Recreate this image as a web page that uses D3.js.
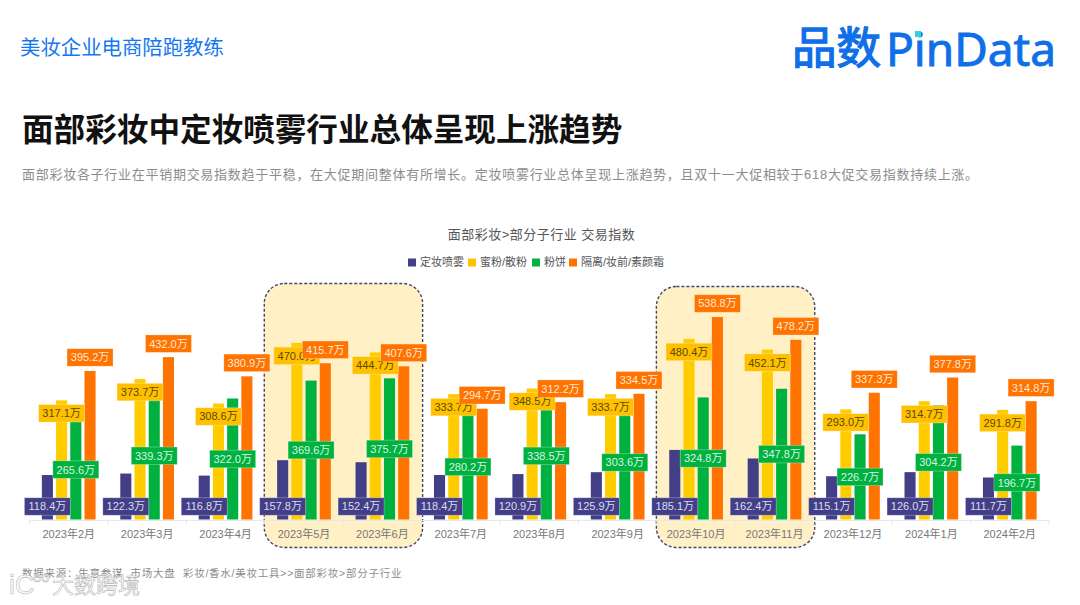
<!DOCTYPE html>
<html>
<head>
<meta charset="utf-8">
<script src="https://cdn.jsdelivr.net/npm/d3@7"></script>
<style>
  html, body { margin: 0; padding: 0; background: #fff; }
  svg { display: block; }
  text { font-family: "Liberation Sans", "Noto Sans CJK SC", sans-serif; white-space: pre; }
</style>
</head>
<body>
<div id="chart"></div>
<script>
const months = ['2023年2月', '2023年3月', '2023年4月', '2023年5月', '2023年6月', '2023年7月', '2023年8月', '2023年9月', '2023年10月', '2023年11月', '2023年12月', '2024年1月', '2024年2月'];
const seriesNames = ['定妆喷雾', '蜜粉/散粉', '粉饼', '隔离/妆前/素颜霜'];
const foundation = [118.4, 122.3, 116.8, 157.8, 152.4, 118.4, 120.9, 125.9, 185.1, 162.4, 115.1, 126.0, 111.7];
const powder = [317.1, 373.7, 308.6, 470.0, 444.7, 333.7, 348.5, 333.7, 480.4, 452.1, 293.0, 314.7, 291.8];
const compact = [265.6, 339.3, 322.0, 369.6, 375.7, 280.2, 338.5, 303.6, 324.8, 347.8, 226.7, 304.2, 196.7];
const primer = [395.2, 432.0, 380.9, 415.7, 407.6, 294.7, 312.2, 334.5, 538.8, 478.2, 337.3, 377.8, 314.8];
const highlights = [['2023年5月', '2023年6月'], ['2023年10月', '2023年11月']];

const seriesValues = [foundation, powder, compact, primer];
const barColors = ['#423f87', '#ffcc00', '#00b140', '#ff7300'];
const labelColors = ['#423f87', '#ffc000', '#00b140', '#ff7300'];
const labelText = ['#dcdcee', '#5c4a00', '#d8f5e2', '#ffe8d6'];
const legendX = [408, 468, 532, 569];

const width = 1080, height = 605;
const baseY = 519.5;

const svg = d3.select('#chart').append('svg').attr('width', width).attr('height', height);

// page header
svg.append('text').attr('x', 20).attr('y', 54.5).attr('font-size', 20.4).attr('fill', '#1677f2').text('美妆企业电商陪跑教练');
svg.append('text').attr('x', 22).attr('y', 140.5).attr('font-size', 31.6).attr('font-weight', 700).attr('fill', '#111').text('面部彩妆中定妆喷雾行业总体呈现上涨趋势');
svg.append('text').attr('x', 22).attr('y', 179).attr('font-size', 13).attr('letter-spacing', 0.72).attr('fill', '#8c8c8c')
  .text('面部彩妆各子行业在平销期交易指数趋于平稳，在大促期间整体有所增长。定妆喷雾行业总体呈现上涨趋势，且双十一大促相较于618大促交易指数持续上涨。');

// logo
svg.append('text').attr('x', 792).attr('y', 64).attr('font-size', 44.5).attr('fill', '#0f6fe8').attr('stroke', '#0f6fe8').attr('stroke-width', 1.3).text('品数');
svg.append('text').attr('x', 886).attr('y', 66).attr('font-size', 46).attr('fill', '#0f6fe8').attr('stroke', '#0f6fe8').attr('stroke-width', 0.9)
  .attr('textLength', 170).attr('lengthAdjust', 'spacingAndGlyphs')
  .style('font-family', '"Noto Sans", sans-serif').text('PinData');
svg.append('rect').attr('x', 915).attr('y', 31).attr('width', 6).attr('height', 6).attr('fill', '#2fd0e0');

// chart title and legend
svg.append('text').attr('x', 541.5).attr('y', 238.5).attr('text-anchor', 'middle').attr('font-size', 13).attr('letter-spacing', 0.5).attr('fill', '#555').text('面部彩妆>部分子行业 交易指数');
seriesNames.forEach((name, i) => {
  svg.append('rect').attr('x', legendX[i]).attr('y', 258.5).attr('width', 8).attr('height', 8).attr('fill', labelColors[i]);
  svg.append('text').attr('x', legendX[i] + 12).attr('y', 266).attr('font-size', 11).attr('fill', '#555').text(name);
});

const x = d3.scaleBand().domain(months).range([29.5, 1049]);
const groupWidth = x.bandwidth() * 0.685;
const inner = d3.scaleBand().domain(d3.range(4)).range([0, groupWidth]).paddingInner(0.22);
const y = d3.scaleLinear().domain([0, 600]).range([baseY, 294]);
const groupLeft = (m) => x(m) + (x.bandwidth() - groupWidth) / 2;

// highlight boxes sit behind the bars
highlights.forEach((pair, i) => {
  const left = x(pair[0]);
  const right = x(pair[1]) + x.bandwidth();
  svg.append('rect')
    .attr('x', left - 0.5).attr('y', i === 0 ? 283.5 : 286.5)
    .attr('width', right - left + 1.5).attr('height', i === 0 ? 264 : 261)
    .attr('rx', 20).attr('ry', 20)
    .attr('fill', '#fff0c6').attr('stroke', '#45456a').attr('stroke-width', 1.4).attr('stroke-dasharray', '3 2');
});

// axis
const axis = svg.append('g').attr('transform', `translate(0,${baseY + 0.5})`).call(d3.axisBottom(x).tickSizeOuter(0).tickSize(0).tickPadding(8));
axis.select('.domain').attr('stroke', '#e6e7ef');
axis.selectAll('text').attr('font-size', 11).attr('fill', '#777').attr('dy', '0.9em');
svg.append('g').selectAll('line').data(d3.range(months.length + 1)).join('line')
  .attr('x1', (i) => 29.5 + i * x.step()).attr('x2', (i) => 29.5 + i * x.step())
  .attr('y1', baseY).attr('y2', baseY + 5).attr('stroke', '#e6e7ef');

// bars
seriesValues.forEach((values, s) => {
  svg.append('g').selectAll('rect').data(values).join('rect')
    .attr('x', (d, i) => groupLeft(months[i]) + inner(s))
    .attr('y', (d) => y(d))
    .attr('width', inner.bandwidth())
    .attr('height', (d) => baseY - y(d))
    .attr('fill', barColors[s]);
});

// label centre per series: fixed near base, just inside top, middle of bar, above bar
const labelY = [
  () => baseY - 13,
  (d) => y(d) + 13,
  (d) => (y(d) + baseY) / 2,
  (d) => y(d) - 13.5
];

seriesValues.forEach((values, s) => {
  const g = svg.append('g').selectAll('g').data(values).join('g')
    .attr('transform', (d, i) => `translate(${groupLeft(months[i]) + inner(s) + inner.bandwidth() / 2},${labelY[s](d)})`);
  g.append('rect')
    .attr('x', -23).attr('y', -8.75).attr('width', 46).attr('height', 17.5)
    .attr('fill', labelColors[s]).attr('stroke', '#fff').attr('stroke-opacity', 0.35).attr('stroke-width', 0.8);
  g.append('text').attr('text-anchor', 'middle').attr('dy', '0.36em').attr('font-size', 11).attr('fill', labelText[s])
    .text((d) => d.toFixed(1) + '万');
});

// footer and watermark
svg.append('text').attr('x', 22).attr('y', 577).attr('font-size', 10.5).attr('letter-spacing', 0.75).attr('fill', '#8c8c8c')
  .text('数据来源：生意参谋  市场大盘  彩妆/香水/美妆工具>>面部彩妆>部分子行业');
svg.append('text').attr('x', 52).attr('y', 593).attr('font-size', 22).attr('fill', '#fff').attr('stroke', '#b4b4b4').attr('stroke-width', 0.6).text('大数跨境');
svg.append('text').attr('x', 9).attr('y', 594).attr('font-size', 27).attr('fill', '#fff').attr('stroke', '#b4b4b4').attr('stroke-width', 0.6).text('iC');
svg.append('text').attr('x', 33).attr('y', 582).attr('font-size', 15).attr('fill', '#fff').attr('stroke', '#b4b4b4').attr('stroke-width', 0.5).text('oo');
</script>
</body>
</html>
